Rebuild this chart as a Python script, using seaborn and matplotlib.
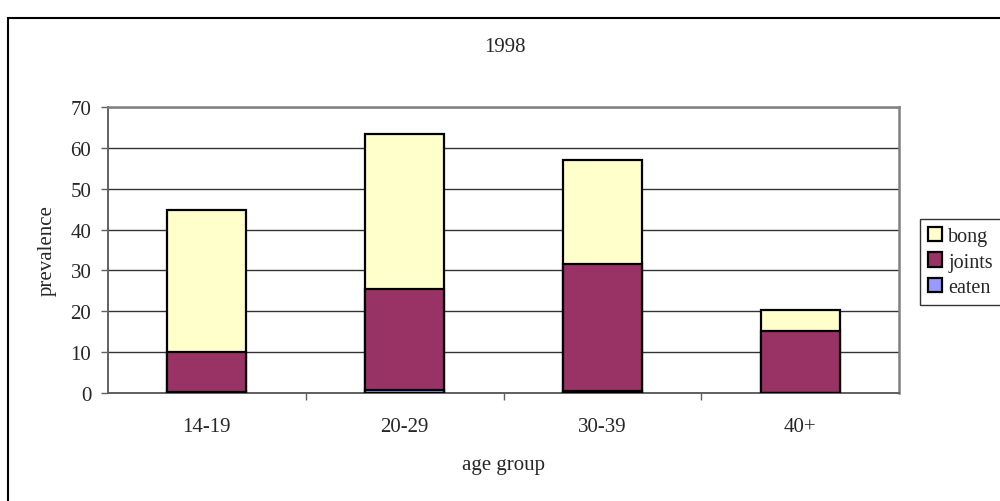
import matplotlib
matplotlib.use("Agg")
import matplotlib.pyplot as plt
from matplotlib.patches import Rectangle, Patch
from matplotlib.ticker import FixedLocator
import numpy as np
import pandas as pd
import seaborn as sns

# Cannabis use prevalence by age group, 1998, split by method of use
age_groups = ["14-19", "20-29", "30-39", "40+"]
eaten = [0.3, 0.7, 0.4, 0.1]
joints = [9.8, 24.8, 31.2, 15.1]
bong = [34.6, 38.0, 25.3, 5.2]

series_names = ["bong", "joints", "eaten"]
colors = {"bong": "#FFFFCC", "joints": "#993366", "eaten": "#9999FF"}

sns.set_style("white")
plt.rcParams["font.family"] = ["Liberation Serif", "DejaVu Serif"]
plt.rcParams["font.size"] = 15

df = pd.DataFrame({"age group": age_groups, "eaten": eaten,
                   "joints": joints, "bong": bong})
# cumulative heights for stacking: each layer drawn from zero, tallest first
df["cum_eaten"] = df["eaten"]
df["cum_joints"] = df["cum_eaten"] + df["joints"]
df["cum_bong"] = df["cum_joints"] + df["bong"]

fig = plt.figure(figsize=(10.0, 5.02), dpi=100)
ax = fig.add_axes([0.108, 0.215, 0.791, 0.570])

for name in series_names:
    sns.barplot(data=df, x="age group", y="cum_" + name, order=age_groups,
                color=colors[name], saturation=1, width=0.4,
                edgecolor="black", linewidth=1.6, errorbar=None, ax=ax,
                zorder=3)

ax.set_xlim(-0.5, 3.5)
ax.set_ylim(0, 70)
ax.set_yticks(np.arange(0, 71, 10))
ax.yaxis.grid(True, color="#333333", linewidth=1.0, zorder=0)
ax.set_axisbelow(True)

for side in ["top", "right"]:
    ax.spines[side].set_color("#808080")
    ax.spines[side].set_linewidth(1.8)
for side in ["left", "bottom"]:
    ax.spines[side].set_color("#606060")
    ax.spines[side].set_linewidth(1.4)

ax.tick_params(axis="y", which="major", direction="out", length=5,
               width=1.0, color="#606060", pad=7, labelsize=15,
               left=True)
ax.tick_params(axis="x", which="major", length=0, pad=17, labelsize=15)
ax.xaxis.set_minor_locator(FixedLocator([0.5, 1.5, 2.5]))
ax.tick_params(axis="x", which="minor", direction="out", length=5,
               width=1.0, color="#606060", bottom=True)

ax.set_xlabel("age group", fontsize=15, labelpad=14)
ax.set_ylabel("prevalence", fontsize=15, labelpad=10)

fig.text(0.505, 0.905, "1998", ha="center", va="center", fontsize=15)

handles = [Patch(facecolor=colors[n], edgecolor="black", linewidth=1.6,
                 label=n) for n in series_names]
leg = fig.legend(handles=handles, loc="center left",
                 bbox_to_anchor=(0.920, 0.476), frameon=True,
                 fancybox=False, edgecolor="black", fontsize=14.5,
                 handlelength=0.7, handleheight=0.7, handletextpad=0.3,
                 labelspacing=0.3, borderpad=0.4, borderaxespad=0)
leg.get_frame().set_linewidth(1.0)

# outer chart frame
fig.patches.append(Rectangle((0.0075, -0.1), 1.2, 1.062,
                             transform=fig.transFigure, fill=False,
                             edgecolor="black", linewidth=1.5))

fig.savefig("out.png", dpi=100, facecolor="white")
